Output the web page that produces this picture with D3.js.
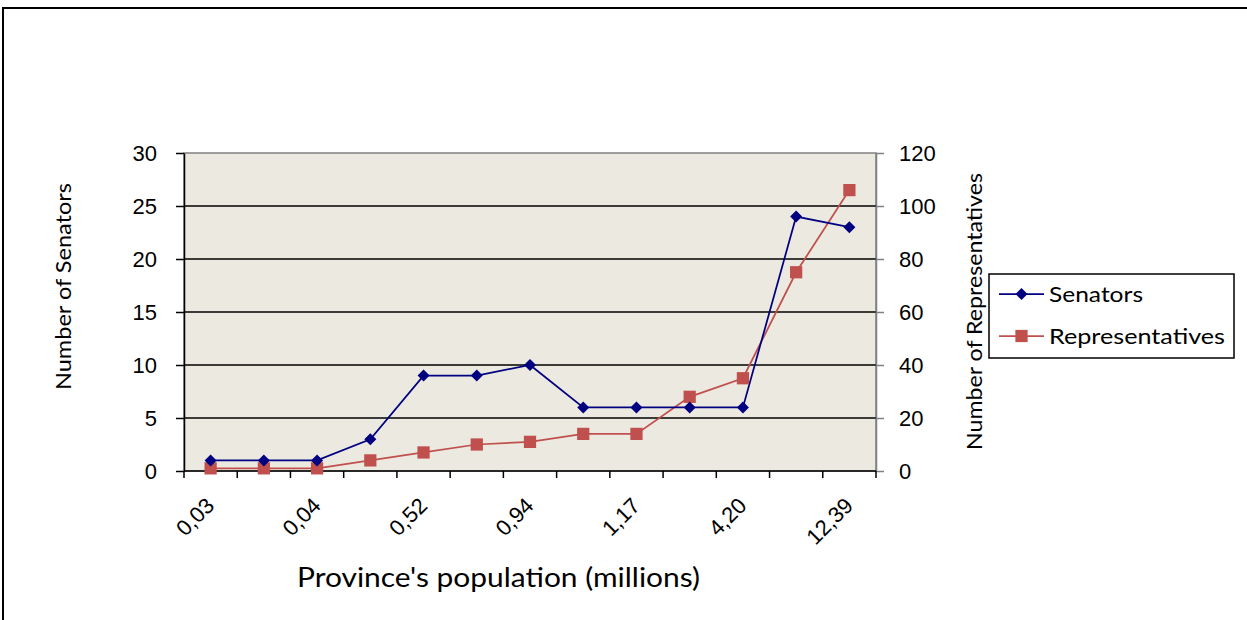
<!DOCTYPE html>
<html>
<head>
<meta charset="utf-8">
<script src="https://cdn.jsdelivr.net/npm/d3@7"></script>
<style>
  html, body { margin: 0; padding: 0; background: #ffffff; }
  svg { display: block; }
</style>
</head>
<body>
<svg id="chart" width="1247" height="620"></svg>
<script>
// Province population categories (millions); only every second one is labelled
const tickLabels = ["0,03", "", "0,04", "", "0,52", "", "0,94", "", "1,17", "", "4,20", "", "12,39"];
const senators = [1, 1, 1, 3, 9, 9, 10, 6, 6, 6, 6, 24, 23];
const representatives = [1, 1, 1, 4, 7, 10, 11, 14, 14, 28, 35, 75, 106];
const senatorTicks = [0, 5, 10, 15, 20, 25, 30];
const representativeTicks = [0, 20, 40, 60, 80, 100, 120];

const svg = d3.select("#chart");
const plot = { left: 184, right: 876, top: 153, bottom: 471 };
const tickFont = "'Liberation Sans', Arial, sans-serif";
const titleFont = "Lato, 'Open Sans', sans-serif";
const navy = "#000080";
const red = "#C0504D";

// outer chart frame
svg.append("rect")
  .attr("x", 3).attr("y", 8).attr("width", 1260).attr("height", 640)
  .attr("fill", "none").attr("stroke", "#000").attr("stroke-width", 2);

const x = d3.scaleBand().domain(d3.range(tickLabels.length)).range([plot.left, plot.right]);
const ySen = d3.scaleLinear().domain([0, 30]).range([plot.bottom, plot.top]);
const yRep = d3.scaleLinear().domain([0, 120]).range([plot.bottom, plot.top]);
const cx = i => x(i) + x.bandwidth() / 2;

// plot area background
svg.append("rect")
  .attr("x", plot.left).attr("y", plot.top)
  .attr("width", plot.right - plot.left).attr("height", plot.bottom - plot.top)
  .attr("fill", "#ECE9E0").attr("stroke", "#808080").attr("stroke-width", 1.5);

// horizontal gridlines
svg.append("g").selectAll("line")
  .data(senatorTicks.filter(v => v > 0 && v < 30))
  .join("line")
  .attr("x1", plot.left).attr("x2", plot.right)
  .attr("y1", d => ySen(d)).attr("y2", d => ySen(d))
  .attr("stroke", "#000").attr("stroke-width", 1.5);

// left axis
const leftAxis = svg.append("g")
  .attr("transform", `translate(${plot.left},0)`)
  .call(d3.axisLeft(ySen).tickValues(senatorTicks).tickSize(8).tickSizeOuter(0).tickPadding(19));
leftAxis.select(".domain").attr("stroke", "#000").attr("stroke-width", 1.5);
leftAxis.selectAll(".tick line").attr("stroke", "#000").attr("stroke-width", 1.5);
leftAxis.selectAll(".tick text")
  .attr("font-family", tickFont).attr("font-size", 22).attr("fill", "#000");

// right axis
const rightAxis = svg.append("g")
  .attr("transform", `translate(${plot.right},0)`)
  .call(d3.axisRight(yRep).tickValues(representativeTicks).tickSize(8).tickSizeOuter(0).tickPadding(15));
rightAxis.select(".domain").attr("stroke", "#808080").attr("stroke-width", 1.5);
rightAxis.selectAll(".tick line").attr("stroke", "#808080").attr("stroke-width", 1.5);
rightAxis.selectAll(".tick text")
  .attr("font-family", tickFont).attr("font-size", 22).attr("fill", "#000");

// bottom axis: tick marks on category boundaries, rotated labels at category centres
const boundaries = d3.range(tickLabels.length + 1).map(i => plot.left + i * x.bandwidth());
const xAxis = svg.append("g");
xAxis.append("line")
  .attr("x1", plot.left).attr("x2", plot.right)
  .attr("y1", plot.bottom).attr("y2", plot.bottom)
  .attr("stroke", "#000").attr("stroke-width", 1.5);
xAxis.selectAll("line.tick")
  .data(boundaries)
  .join("line").attr("class", "tick")
  .attr("x1", d => d).attr("x2", d => d)
  .attr("y1", plot.bottom).attr("y2", plot.bottom + 7)
  .attr("stroke", "#000").attr("stroke-width", 1.5);
xAxis.selectAll("text")
  .data(tickLabels.map((t, i) => ({ t, i })).filter(d => d.t))
  .join("text")
  .attr("transform", d => `translate(${cx(d.i) + 5},${plot.bottom + 36}) rotate(-45)`)
  .attr("text-anchor", "end")
  .attr("font-family", tickFont).attr("font-size", 22).attr("fill", "#000")
  .text(d => d.t);

// series lines and markers
const lineSen = d3.line().x((d, i) => cx(i)).y(d => ySen(d));
const lineRep = d3.line().x((d, i) => cx(i)).y(d => yRep(d));

svg.append("path").datum(representatives)
  .attr("d", lineRep).attr("fill", "none").attr("stroke", red).attr("stroke-width", 1.75);
svg.append("path").datum(senators)
  .attr("d", lineSen).attr("fill", "none").attr("stroke", navy).attr("stroke-width", 1.75);

const square = d3.symbol().type(d3.symbolSquare).size(150);
const diamond = "M0,-6L6,0L0,6L-6,0Z";

svg.append("g").selectAll("path")
  .data(representatives)
  .join("path")
  .attr("transform", (d, i) => `translate(${cx(i)},${yRep(d)})`)
  .attr("d", square()).attr("fill", red);
svg.append("g").selectAll("path")
  .data(senators)
  .join("path")
  .attr("transform", (d, i) => `translate(${cx(i)},${ySen(d)})`)
  .attr("d", diamond).attr("fill", navy);

// axis titles
svg.append("text")
  .attr("transform", "translate(71,286.5) rotate(-90)")
  .attr("text-anchor", "middle")
  .attr("font-family", titleFont).attr("font-size", 22)
  .attr("textLength", 207).attr("lengthAdjust", "spacingAndGlyphs")
  .text("Number of Senators");
svg.append("text")
  .attr("transform", "translate(982,311.5) rotate(-90)")
  .attr("text-anchor", "middle")
  .attr("font-family", titleFont).attr("font-size", 22)
  .attr("textLength", 277).attr("lengthAdjust", "spacingAndGlyphs")
  .text("Number of Representatives");
svg.append("text")
  .attr("x", 498.5).attr("y", 587)
  .attr("text-anchor", "middle")
  .attr("font-family", titleFont).attr("font-size", 26)
  .attr("textLength", 403).attr("lengthAdjust", "spacingAndGlyphs")
  .text("Province's population (millions)");

// legend
const legend = svg.append("g");
legend.append("rect")
  .attr("x", 989).attr("y", 274).attr("width", 245).attr("height", 84)
  .attr("fill", "#fff").attr("stroke", "#000").attr("stroke-width", 1.5);
const items = [
  { name: "Senators", color: navy, y: 294, mark: diamond, len: 94 },
  { name: "Representatives", color: red, y: 336, mark: square(), len: 176 }
];
const li = legend.selectAll("g.item").data(items).join("g").attr("class", "item");
li.append("line")
  .attr("x1", 999).attr("x2", 1044)
  .attr("y1", d => d.y).attr("y2", d => d.y)
  .attr("stroke", d => d.color).attr("stroke-width", 1.75);
li.append("path")
  .attr("transform", d => `translate(1021.5,${d.y})`)
  .attr("d", d => d.mark).attr("fill", d => d.color);
li.append("text")
  .attr("x", 1049).attr("y", d => d.y + 8)
  .attr("font-family", titleFont).attr("font-size", 22)
  .attr("textLength", d => d.len).attr("lengthAdjust", "spacingAndGlyphs")
  .text(d => d.name);
</script>
</body>
</html>
